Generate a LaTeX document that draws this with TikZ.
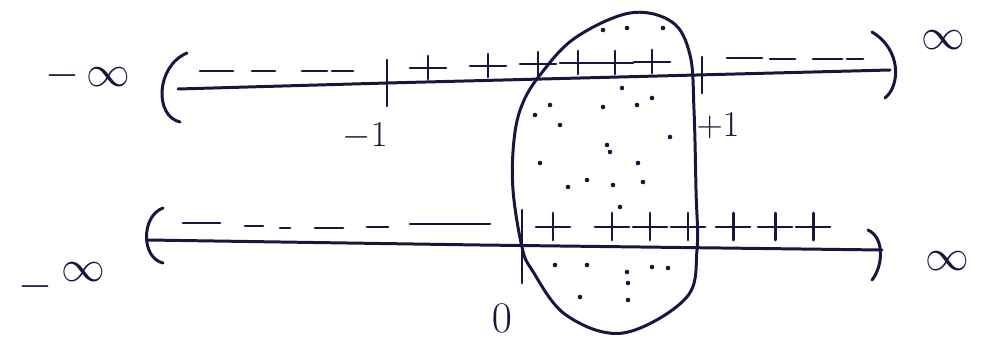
\documentclass[tikz,border=0pt]{standalone}
\usepackage{amsmath}
\definecolor{ink}{HTML}{16163E}
\tikzset{
  inkline/.style={draw=ink, line width=1.7pt, line cap=round, line join=round},
  lbl/.style={text=ink, inner sep=0pt, font=\fontsize{22}{26}\selectfont},
  inflbl/.style={text=ink, inner sep=0pt, font=\fontsize{30}{34}\selectfont},
}
\begin{document}
\begin{tikzpicture}[x=0.02cm, y=-0.02cm]
\useasboundingbox[fill=white] (0,0) rectangle (981,338);

% ---------- top number line ----------
\draw[inkline] (178,89) -- (387,83) -- (890,70);
% brackets
\draw[inkline] (187,53) .. controls (156,66) and (154,116) .. (180,122);
\draw[inkline] (872,32) .. controls (902,50) and (900,86) .. (885,98);
% negative dashes
\foreach \a/\b/\y in {200/233/71, 252/275/71, 302/327/71, 332/353/71,
                     727/762/58, 770/795/59, 813/842/59, 847/863/59}
  \draw[inkline] (\a,\y) -- (\b,\y);
% plus signs
\foreach \x/\y in {428/68, 488/66, 538/64, 578/63, 615/63, 652/62}
  {\draw[inkline] (\x-18,\y) -- (\x+18,\y);
   \draw[inkline] (\x,\y-12) -- (\x,\y+11);}
% ticks
\draw[inkline] (387,60) -- (387,106);
\draw[inkline] (702,57) -- (702,93);

% ---------- bottom number line ----------
\draw[inkline] (148,240) -- (480,245) -- (882,250);
\draw[inkline] (163,208) .. controls (141,216) and (141,258) .. (163,263);
\draw[inkline] (868,230) .. controls (885,238) and (883,266) .. (872,280);
\foreach \a/\b/\y in {183/220/223, 245/263/226, 280/290/228, 315/343/228,
                     367/388/227, 410/490/224}
  \draw[inkline] (\a,\y) -- (\b,\y);
\foreach \x in {553, 612, 650, 688, 733, 775, 813}
  {\draw[inkline] (\x-17,227) -- (\x+17,227);
   \draw[inkline] (\x,213) -- (\x,240);}
\draw[inkline] (522,210) -- (522,283);

% ---------- blob ----------
\draw[inkline] plot[smooth cycle, tension=0.6] coordinates {
  (522,247) (513,190) (514,140) (522,105) (540,75) (575,38) (630,13)
  (672,22) (690,55) (694,110) (696,190) (697,250) (686,298) (623,333)
  (566,315) (532,270)};
% dots
\foreach \x/\y in {603/30, 627/28, 663/28, 622/88, 550/105, 535/115, 560/125,
   603/107, 637/105, 652/98, 670/137, 607/145, 610/152, 540/163, 638/163,
   568/187, 587/180, 613/185, 643/182, 620/207, 555/265, 587/265, 627/272,
   628/283, 652/267, 668/268, 580/297, 628/300}
  \fill[ink] (\x,\y) circle (1.3pt);

% ---------- labels ----------
\node[inflbl] (tni) at (88,76) {$-\,\infty$};
\node[inflbl] (tpi) at (943,40) {$\infty$};
\node[inflbl] (bni) at (62,282) {$-$\,\raisebox{9pt}{$\infty$}};
\node[inflbl] (bpi) at (947,261) {$\infty$};
\node[lbl] (lm1) at (365,136) {$-1$};
\node[lbl] (lp1) at (718,126) {$+1$};
\node[lbl, font=\fontsize{27}{30}\selectfont] (l0) at (502,318) {$0$};
\end{tikzpicture}
\end{document}
